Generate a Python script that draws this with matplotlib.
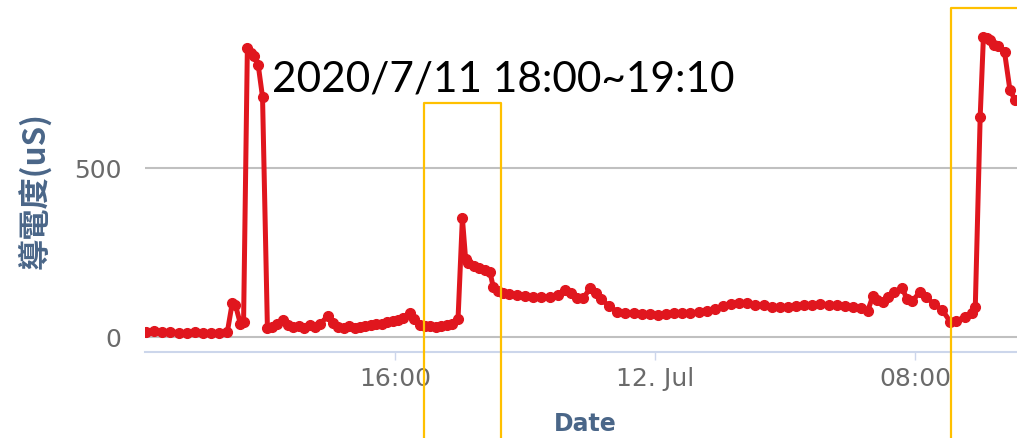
import matplotlib
matplotlib.use("Agg")
import matplotlib.pyplot as plt
from matplotlib.lines import Line2D
import pandas as pd

# conductivity log, 11-12 Jul 2020
times = [
    "2020-07-11 08:20", "2020-07-11 08:35", "2020-07-11 08:50", "2020-07-11 09:05",
    "2020-07-11 09:20", "2020-07-11 09:35", "2020-07-11 09:50", "2020-07-11 10:05",
    "2020-07-11 10:20", "2020-07-11 10:35", "2020-07-11 10:50", "2020-07-11 10:59",
    "2020-07-11 11:05", "2020-07-11 11:14", "2020-07-11 11:20", "2020-07-11 11:27",
    "2020-07-11 11:33", "2020-07-11 11:40", "2020-07-11 11:47", "2020-07-11 11:55",
    "2020-07-11 12:04", "2020-07-11 12:12", "2020-07-11 12:22", "2020-07-11 12:32",
    "2020-07-11 12:42", "2020-07-11 12:52", "2020-07-11 13:02", "2020-07-11 13:12",
    "2020-07-11 13:22", "2020-07-11 13:32", "2020-07-11 13:42", "2020-07-11 13:55",
    "2020-07-11 14:05", "2020-07-11 14:15", "2020-07-11 14:25", "2020-07-11 14:35",
    "2020-07-11 14:45", "2020-07-11 14:55", "2020-07-11 15:05", "2020-07-11 15:15",
    "2020-07-11 15:25", "2020-07-11 15:35", "2020-07-11 15:45", "2020-07-11 15:55",
    "2020-07-11 16:05", "2020-07-11 16:15", "2020-07-11 16:27", "2020-07-11 16:35",
    "2020-07-11 16:45", "2020-07-11 16:55", "2020-07-11 17:05", "2020-07-11 17:15",
    "2020-07-11 17:25", "2020-07-11 17:35", "2020-07-11 17:45", "2020-07-11 17:56",
    "2020-07-11 18:04", "2020-07-11 18:10", "2020-07-11 18:15", "2020-07-11 18:25",
    "2020-07-11 18:35", "2020-07-11 18:45", "2020-07-11 18:55", "2020-07-11 19:01",
    "2020-07-11 19:10", "2020-07-11 19:19", "2020-07-11 19:30", "2020-07-11 19:45",
    "2020-07-11 20:00", "2020-07-11 20:15", "2020-07-11 20:30", "2020-07-11 20:45",
    "2020-07-11 21:00", "2020-07-11 21:14", "2020-07-11 21:25", "2020-07-11 21:35",
    "2020-07-11 21:47", "2020-07-11 22:00", "2020-07-11 22:10", "2020-07-11 22:20",
    "2020-07-11 22:35", "2020-07-11 22:50", "2020-07-11 23:05", "2020-07-11 23:20",
    "2020-07-11 23:35", "2020-07-11 23:50", "2020-07-12 00:05", "2020-07-12 00:20",
    "2020-07-12 00:35", "2020-07-12 00:50", "2020-07-12 01:05", "2020-07-12 01:20",
    "2020-07-12 01:35", "2020-07-12 01:50", "2020-07-12 02:05", "2020-07-12 02:20",
    "2020-07-12 02:35", "2020-07-12 02:50", "2020-07-12 03:05", "2020-07-12 03:20",
    "2020-07-12 03:35", "2020-07-12 03:50", "2020-07-12 04:05", "2020-07-12 04:20",
    "2020-07-12 04:35", "2020-07-12 04:50", "2020-07-12 05:05", "2020-07-12 05:20",
    "2020-07-12 05:35", "2020-07-12 05:50", "2020-07-12 06:05", "2020-07-12 06:20",
    "2020-07-12 06:32", "2020-07-12 06:42", "2020-07-12 06:50", "2020-07-12 07:00",
    "2020-07-12 07:10", "2020-07-12 07:20", "2020-07-12 07:36", "2020-07-12 07:45",
    "2020-07-12 07:55", "2020-07-12 08:09", "2020-07-12 08:20", "2020-07-12 08:35",
    "2020-07-12 08:50", "2020-07-12 09:05", "2020-07-12 09:15", "2020-07-12 09:32",
    "2020-07-12 09:45", "2020-07-12 09:51", "2020-07-12 10:00", "2020-07-12 10:06",
    "2020-07-12 10:12", "2020-07-12 10:19", "2020-07-12 10:26", "2020-07-12 10:33",
    "2020-07-12 10:45", "2020-07-12 10:55", "2020-07-12 11:05",
]
conductivity = [
    15, 18, 14, 16,
    13, 12, 14, 11,
    13, 12, 15, 100,
    95, 40, 45, 855,
    840, 830, 805, 710,
    28, 30, 38, 52,
    36, 30, 33, 28,
    36, 30, 40, 62,
    42, 30, 28, 32,
    26, 30, 32, 36,
    40, 38, 46, 48,
    50, 58, 70, 55,
    36, 32, 34, 30,
    33, 35, 40, 55,
    352, 230, 219, 210,
    205, 198, 192, 148,
    135, 130, 128, 125,
    122, 120, 118, 120,
    125, 139, 130, 115,
    115, 145, 130, 112,
    92, 75, 72, 70,
    68, 68, 66, 68,
    70, 72, 72, 74,
    78, 82, 92, 98,
    100, 100, 96, 94,
    90, 88, 90, 92,
    94, 96, 98, 96,
    94, 92, 90, 86,
    76, 122, 110, 104,
    118, 132, 145, 112,
    108, 133, 118, 98,
    80, 45, 48, 59,
    70, 90, 651, 888,
    885, 880, 865, 860,
    843, 730, 700,
]
tick_times = ["2020-07-11 16:00", "2020-07-12 00:00", "2020-07-12 08:00"]
tick_labels = ["16:00", "12. Jul", "08:00"]

t = pd.to_datetime(times)
W, H = 1017, 438
fig = plt.figure(figsize=(W/100, H/100), dpi=100)
ax = fig.add_axes([145/W, 1-352/H, 1-145/W, 352/H])

ax.plot(t, conductivity, color='#e0161e', lw=3.6, marker='o', ms=7, zorder=3)

ax.set_ylim(-44, 997)
ax.set_xlim(pd.Timestamp("2020-07-11 08:18"), pd.Timestamp("2020-07-12 11:08"))
ax.set_yticks([0, 500])
ax.yaxis.grid(True, color='#c0c0c0', lw=1.5)
ax.set_axisbelow(True)
for s in ['top', 'right', 'left']:
    ax.spines[s].set_visible(False)
ax.spines['bottom'].set_color('#ccd6eb')
ax.spines['bottom'].set_linewidth(1.5)

ax.set_xticks(pd.to_datetime(tick_times))
ax.set_xticklabels(tick_labels)
ax.tick_params(axis='y', length=0, labelsize=18, labelcolor='#6a6a6a', pad=17)
ax.tick_params(axis='x', length=6, width=1, color='#ccd6eb', labelsize=18,
               labelcolor='#6a6a6a', pad=5)

ax.set_ylabel("導電度(uS)", fontsize=22.5, fontweight='bold', color='#4a6688',
              family=['Noto Sans CJK TC', 'DejaVu Sans'])
ax.yaxis.set_label_coords(-0.108, 0.46)
ax.set_xlabel("Date", fontsize=17, fontweight='bold', color='#4a6688')
ax.xaxis.set_label_coords(0.505, -0.17)

# annotation drawn over the chart
fig.text(272/W, 1-79/H, "2020/7/11 18:00~19:10", fontsize=30.5, family='Lato',
         color='black', va='center', ha='left')
yel = '#ffc000'
for xs, ys in [([424, 424, 501, 501], [440, 103, 103, 440]),
               ([951, 951, 1030], [440, 8, 8])]:
    fig.add_artist(Line2D([x/W for x in xs], [1-y/H for y in ys], color=yel, lw=1.6))

fig.savefig("out.png", dpi=100)
